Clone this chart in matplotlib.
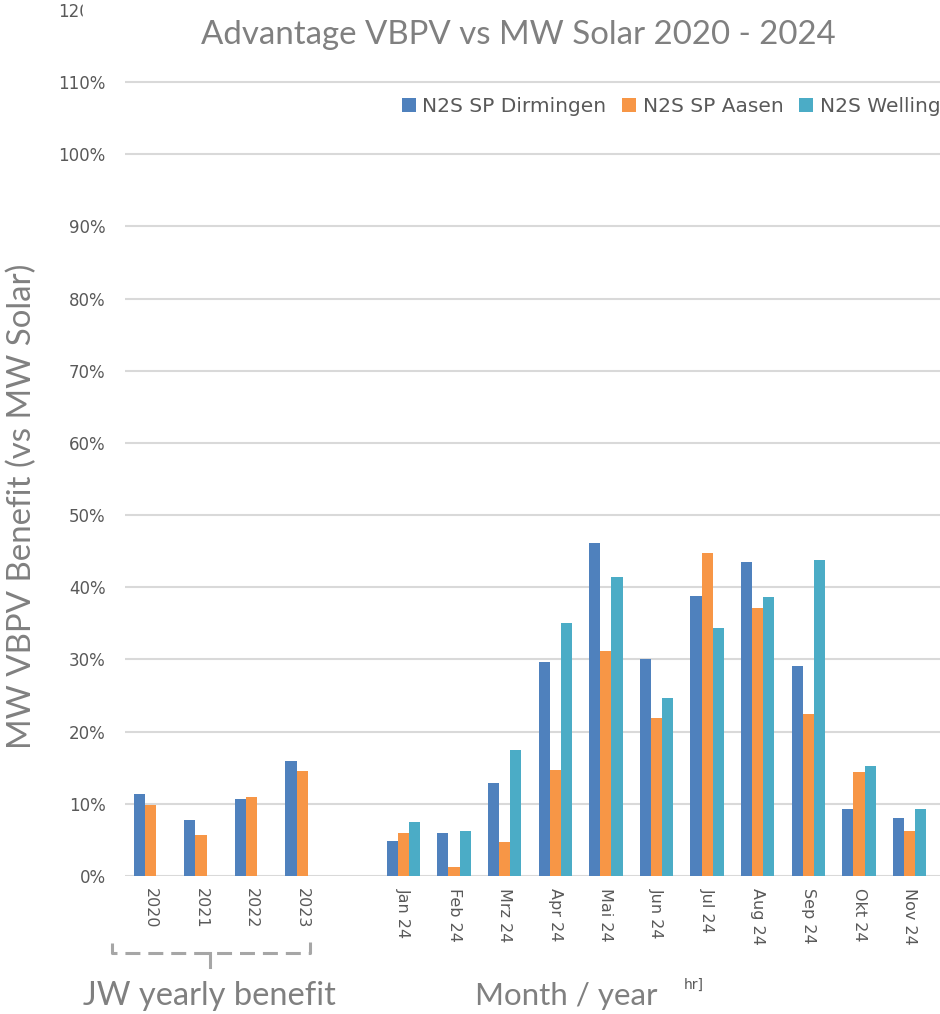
import numpy as np
import matplotlib.pyplot as plt
from matplotlib.lines import Line2D
from matplotlib.patches import Rectangle

# categories
years = ['2020', '2021', '2022', '2023']
months = ['Jan 24', 'Feb 24', 'Mrz 24', 'Apr 24', 'Mai 24', 'Jun 24',
          'Jul 24', 'Aug 24', 'Sep 24', 'Okt 24', 'Nov 24']

# yearly benefit in % (only two plants)
dirmingen_year = [11.4, 7.8, 10.6, 16.0]
aasen_year = [9.9, 5.7, 10.9, 14.5]

# monthly benefit 2024 in %
dirmingen_month = [4.9, 6.0, 12.9, 29.6, 46.1, 30.1, 38.8, 43.5, 29.1, 9.35, 8.0]
aasen_month = [6.0, 1.3, 4.7, 14.7, 31.2, 21.9, 44.8, 37.1, 22.4, 14.4, 6.2]
wellingen_month = [7.5, 6.25, 17.5, 35.0, 41.4, 24.7, 34.3, 38.6, 43.75, 15.2, 9.35]

names = ['N2S SP Dirmingen', 'N2S SP Aasen', 'N2S Wellingen']
colors = ['#4f81bd', '#f79646', '#4bacc6']

W, H = 940, 1014
def fx(px):
    return px / W
def fy(py):
    return 1 - py / H

fig = plt.figure(figsize=(W / 100, H / 100), dpi=100)
ax = fig.add_axes([fx(125), fy(876), fx(815), (876 - 9.8) / H])

x_year = np.arange(len(years))
x_month = np.arange(len(months)) + len(years) + 1
w = 0.22

b1 = ax.bar(x_year - w, dirmingen_year, w, color=colors[0])
b2 = ax.bar(x_year, aasen_year, w, color=colors[1])
ax.bar(x_month - w, dirmingen_month, w, color=colors[0])
ax.bar(x_month, aasen_month, w, color=colors[1])
b3 = ax.bar(x_month + w, wellingen_month, w, color=colors[2])

ax.set_xlim(-0.5, 15.6)
ax.set_ylim(0, 120)
ax.set_yticks(range(0, 121, 10))
ax.set_yticklabels(['{}%'.format(v) for v in range(0, 121, 10)])
ax.set_xticks(np.concatenate([x_year, x_month]))
ax.set_xticklabels(years + months, rotation=-90)
ax.tick_params(length=0, colors='#595959', labelsize=11.5)
ax.tick_params(axis='y', pad=14, labelsize=12)
ax.tick_params(axis='x', pad=9)
ax.yaxis.grid(True, color='#d9d9d9', lw=1.5)
ax.set_axisbelow(True)
for s in ax.spines.values():
    s.set_visible(False)

ax.legend([b1, b2, b3], names, loc='upper left',
          bbox_to_anchor=(fx(402), fy(97)), bbox_transform=fig.transFigure,
          ncol=3, frameon=False, fontsize=14.5, labelcolor='#595959',
          handlelength=0.7, handleheight=0.7, handletextpad=0.3,
          columnspacing=0.8, borderpad=0, borderaxespad=0)

# white title box over the top of the plot
fig.add_artist(Rectangle((fx(83), fy(62)), fx(W - 83), 62 / H,
                         transform=fig.transFigure, color='white', zorder=5))
fig.text(fx(518), fy(35), 'Advantage VBPV vs MW Solar 2020 - 2024',
         ha='center', va='center', fontsize=23.8, color='#808080',
         family='Lato', zorder=6)

fig.text(fx(22), fy(506), 'MW VBPV Benefit (vs MW Solar)', rotation=90,
         ha='center', va='center', fontsize=23.8, color='#808080', family='Lato')

# bracket under the yearly bars
gray = '#a6a6a6'
fig.add_artist(Line2D([fx(112), fx(112), fx(310), fx(310)],
                      [fy(943), fy(953), fy(953), fy(942)],
                      transform=fig.transFigure, color=gray, lw=2.2,
                      linestyle=(0, (4.9, 2.6))))
fig.add_artist(Line2D([fx(210), fx(210)], [fy(953), fy(967)],
                      transform=fig.transFigure, color=gray, lw=2.2))

fig.text(fx(83), fy(996), 'JW yearly benefit', ha='left', va='center',
         fontsize=23.5, color='#808080', family='Lato')
fig.text(fx(566), fy(996), 'Month / year', ha='center', va='center',
         fontsize=22.5, color='#808080', family='Lato')
fig.text(fx(684), fy(985), 'hr]', ha='left', va='center',
         fontsize=10, color='#595959')

fig.savefig('out.png', dpi=100)
